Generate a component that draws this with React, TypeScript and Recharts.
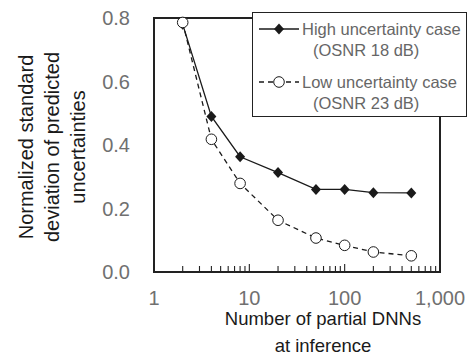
import React from 'react';
import { LineChart, Line, XAxis, YAxis, Legend, Label, ReferenceArea } from 'recharts';

// number of partial DNNs used at inference
const partialDnns = [2, 4, 8, 20, 50, 100, 200, 500];
const highUncertainty = [0.78, 0.49, 0.363, 0.313, 0.26, 0.26, 0.25, 0.249];
const lowUncertainty = [0.786, 0.418, 0.279, 0.163, 0.107, 0.084, 0.063, 0.051];

const seriesNames = ['High uncertainty case', 'Low uncertainty case'];
const seriesNotes = ['(OSNR 18 dB)', '(OSNR 23 dB)'];

const xTicks = [1, 2, 3, 4, 5, 6, 7, 8, 9, 10, 20, 30, 40, 50, 60, 70, 80, 90, 100, 200, 300, 400, 500, 600, 700, 800, 900, 1000];
const xTickLabels: Record<number, string> = { 1: '1', 10: '10', 100: '100', 1000: '1,000' };
const yTicks = [0, 0.2, 0.4, 0.6, 0.8];

const yTitleLines = ['Normalized standard', 'deviation of predicted', 'uncertainties'];
const xTitleLines = ['Number of partial DNNs', 'at inference'];

const data = partialDnns.map((n, i) => ({
  n,
  high: highUncertainty[i],
  low: lowUncertainty[i],
}));

const FONT = '"Liberation Sans", Arial, Helvetica, sans-serif';
const INK = '#1a1a1a';
const FRAME = '#222';
const TICK_GRAY = '#707070';

const XTick = (props: any) => {
  const { x, y, payload } = props;
  const label = xTickLabels[payload.value];
  return (
    <g>
      <line x1={x} x2={x} y1={y} y2={y - (label ? 8 : 6)} stroke={FRAME} strokeWidth={1.1} />
      {label && (
        <text x={x} y={y + 26} textAnchor="middle" dominantBaseline="central" fontFamily={FONT} fontSize={20} fill={TICK_GRAY}>
          {label}
        </text>
      )}
    </g>
  );
};

const YTick = (props: any) => {
  const { x, y, payload } = props;
  return (
    <text x={x} y={y} textAnchor="end" dominantBaseline="central" fontFamily={FONT} fontSize={20} fill={TICK_GRAY}>
      {payload.value.toFixed(1)}
    </text>
  );
};

const YTitle = () => {
  const cy = 147;
  const xs = [26, 52, 78];
  return (
    <g>
      {yTitleLines.map((t, i) => (
        <text
          key={t}
          x={xs[i]}
          y={cy}
          transform={`rotate(-90 ${xs[i]} ${cy})`}
          textAnchor="middle"
          dominantBaseline="central"
          fontFamily={FONT}
          fontSize={20}
          fill={INK}
        >
          {t}
        </text>
      ))}
    </g>
  );
};

const XTitle = () => {
  const cx = 323;
  return (
    <g>
      {xTitleLines.map((t, i) => (
        <text
          key={t}
          x={cx}
          y={318 + i * 27}
          textAnchor="middle"
          dominantBaseline="central"
          fontFamily={FONT}
          fontSize={18.5}
          fill={INK}
        >
          {t}
        </text>
      ))}
    </g>
  );
};

const Diamond = (props: any) => {
  const { cx, cy } = props;
  if (cx == null || cy == null) return null;
  return <path d={`M${cx},${cy - 5.5}L${cx + 5},${cy}L${cx},${cy + 5.5}L${cx - 5},${cy}Z`} fill={INK} />;
};

const OpenCircle = (props: any) => {
  const { cx, cy } = props;
  if (cx == null || cy == null) return null;
  return <circle cx={cx} cy={cy} r={5.3} fill="#fff" stroke={INK} strokeWidth={1} />;
};

const LegendBox = () => {
  const rows = [16, 69];
  return (
    <div style={{ width: 213, height: 103, border: `1px solid ${FRAME}`, background: '#fff' }}>
      <svg width={213} height={103} style={{ display: 'block' }}>
        {rows.map((ry, i) => (
          <g key={seriesNames[i]}>
            <line x1={6} x2={46} y1={ry} y2={ry} stroke={INK} strokeWidth={1.3} strokeDasharray={i === 1 ? '5 4' : undefined} />
            {i === 0 ? <Diamond cx={26} cy={ry} /> : <OpenCircle cx={26} cy={ry} />}
            <text x={49} y={ry} dominantBaseline="central" fontFamily={FONT} fontSize={16.5} fill="#666">
              {seriesNames[i]}
            </text>
            <text x={60} y={ry + 21} dominantBaseline="central" fontFamily={FONT} fontSize={16.5} fill="#666">
              {seriesNotes[i]}
            </text>
          </g>
        ))}
      </svg>
    </div>
  );
};

export default function App() {
  return (
    <div style={{ position: 'absolute', left: 0, top: 0, width: 468, height: 358, background: '#fff' }}>
      <LineChart width={468} height={358} data={data} margin={{ top: 18, right: 28, bottom: 0, left: 0 }}>
        <XAxis
          dataKey="n"
          type="number"
          scale="log"
          domain={[1, 1000]}
          ticks={xTicks}
          interval={0}
          allowDataOverflow
          height={86}
          tickSize={0}
          tickMargin={0}
          tickLine={false}
          tick={<XTick />}
          axisLine={false}
        >
          <Label content={<XTitle />} />
        </XAxis>
        <YAxis
          type="number"
          domain={[0, 0.8]}
          ticks={yTicks}
          width={154}
          tickSize={0}
          tickMargin={24}
          tickLine={false}
          tick={<YTick />}
          axisLine={false}
        >
          <Label content={<YTitle />} />
        </YAxis>
        {/* plot frame on all four sides */}
        <ReferenceArea
          x1={1}
          x2={1000}
          y1={0}
          y2={0.8}
          fill="none"
          stroke={FRAME}
          strokeWidth={1.5}
          shapeRendering="crispEdges"
          ifOverflow="visible"
        />
        <Line
          dataKey="high"
          name={seriesNames[0]}
          stroke={INK}
          strokeWidth={1.3}
          dot={<Diamond />}
          activeDot={false}
          isAnimationActive={false}
        />
        <Line
          dataKey="low"
          name={seriesNames[1]}
          stroke={INK}
          strokeWidth={1.3}
          strokeDasharray="5 4"
          dot={<OpenCircle />}
          activeDot={false}
          isAnimationActive={false}
        />
        <Legend
          layout="horizontal"
          verticalAlign="middle"
          align="center"
          content={<LegendBox />}
          wrapperStyle={{ left: 252, top: 12, width: 215, height: 105 }}
        />
      </LineChart>
    </div>
  );
}
